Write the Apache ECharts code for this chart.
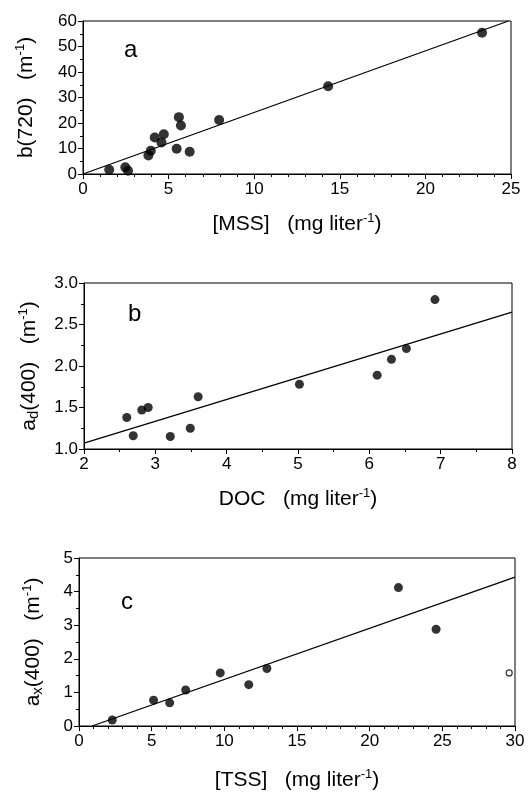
<!DOCTYPE html>
<html><head><meta charset="utf-8">
<script src="https://cdn.jsdelivr.net/npm/echarts@6/dist/echarts.min.js"></script>
<style>html,body{margin:0;padding:0;background:#fff}#c{width:529px;height:793px}</style>
</head><body><div id="c"></div>
<script>
// Panel a: b(720) vs [MSS]
const aX = [1.53, 2.47, 2.63, 3.82, 3.96, 4.19, 4.58, 4.72, 5.60, 5.72, 5.47, 6.23, 7.95, 14.32, 23.31];
const aY = [1.7, 2.6, 1.3, 7.3, 9.1, 14.3, 12.4, 15.6, 22.3, 19.0, 9.9, 8.7, 21.2, 34.4, 55.4];
const aFitX = [0, 24.85];
const aFitY = [0, 60];
// Panel b: a_d(400) vs DOC
const bX = [2.60, 2.69, 2.81, 2.90, 3.21, 3.49, 3.60, 5.02, 6.11, 6.31, 6.52, 6.92];
const bY = [1.38, 1.16, 1.47, 1.50, 1.15, 1.25, 1.63, 1.78, 1.89, 2.08, 2.21, 2.80];
const bFitX = [2, 8];
const bFitY = [1.07, 2.65];
// Panel c: a_x(400) vs [TSS]
const cX = [2.29, 5.13, 6.24, 7.34, 9.72, 11.68, 12.93, 21.98, 24.57];
const cY = [0.18, 0.77, 0.69, 1.07, 1.58, 1.23, 1.71, 4.12, 2.88];
const cOpenX = [29.6];
const cOpenY = [1.58];
const cFitX = [0.9, 30];
const cFitY = [0, 4.43];
// axis ticks
const aXTicks = {min: 0, max: 25, interval: 5};
const aYTicks = {min: 0, max: 60, interval: 10};
const bXTicks = {min: 2, max: 8, interval: 1};
const bYTicks = {min: 1.0, max: 3.0, interval: 0.5};
const cXTicks = {min: 0, max: 30, interval: 5};
const cYTicks = {min: 0, max: 5, interval: 1};

const FONT = "'Liberation Sans', Arial, Helvetica, sans-serif";
const pairs = (xs, ys) => xs.map((x, i) => [x, ys[i]]);
const rich = {
  sup: {fontSize: 13, lineHeight: 12, verticalAlign: 'top', fontFamily: FONT, color: '#000'},
  sub: {fontSize: 15, lineHeight: 14, verticalAlign: 'bottom', fontFamily: FONT, color: '#000'}
};
const nameStyle = {fontSize: 21, lineHeight: 24, fontFamily: FONT, color: '#000', rich: rich};

function xAxis(gi, t, split, name, gap, fmt) {
  return {
    type: 'value', gridIndex: gi, min: t.min, max: t.max, interval: t.interval,
    name: name, nameLocation: 'middle', nameGap: gap, nameTextStyle: nameStyle,
    axisLine: {show: true, lineStyle: {color: '#000', width: 1}},
    axisTick: {show: true, inside: false, length: 5, lineStyle: {color: '#000'}},
    minorTick: {show: true, splitNumber: split, length: 3, lineStyle: {color: '#000'}},
    splitLine: {show: false},
    axisLabel: {fontSize: 17, fontFamily: FONT, color: '#000', margin: 7, formatter: fmt}
  };
}
function yAxis(gi, t, split, name, gap, fmt) {
  const o = xAxis(gi, t, split, name, gap, fmt);
  o.axisLabel.margin = 6;
  return o;
}
const f1 = v => v.toFixed(1);
const f0 = v => String(v);

const dot = (gi, xs, ys, size) => ({
  type: 'scatter', xAxisIndex: gi, yAxisIndex: gi, data: pairs(xs, ys),
  symbol: 'circle', symbolSize: size, itemStyle: {color: '#000'}, z: 3
});
const fit = (gi, xs, ys) => ({
  type: 'line', xAxisIndex: gi, yAxisIndex: gi, data: pairs(xs, ys),
  showSymbol: false, symbol: 'none', lineStyle: {color: '#000', width: 1.3}, clip: true, z: 2
});

const chart = echarts.init(document.getElementById('c'), null, {renderer: 'canvas'});
chart.setOption({
  backgroundColor: '#fff',
  animation: false,
  grid: [
    {left: 83, top: 21, width: 428, height: 153, show: true, borderColor: '#000', borderWidth: 1},
    {left: 84, top: 283, width: 428, height: 166, show: true, borderColor: '#000', borderWidth: 1},
    {left: 79, top: 558, width: 436, height: 171, show: true, borderColor: '#000', borderWidth: 1}
  ],
  xAxis: [
    xAxis(0, aXTicks, 5, '[MSS]   (mg liter{sup|-1})', 38, f0),
    xAxis(1, bXTicks, 2, 'DOC   (mg liter{sup|-1})', 38, f0),
    xAxis(2, cXTicks, 5, '[TSS]   (mg liter{sup|-1})', 42, f0)
  ],
  yAxis: [
    yAxis(0, aYTicks, 2, 'b(720)   (m{sup|-1})', 45, f0),
    yAxis(1, bYTicks, 2, 'a{sub|d}(400)   (m{sup|-1})', 43, f1),
    yAxis(2, cYTicks, 2, 'a{sub|x}(400)   (m{sup|-1})', 34, f0)
  ],
  graphic: [
    {type: 'text', left: 124, top: 38, style: {text: 'a', font: '24px ' + FONT, fill: '#000'}},
    {type: 'text', left: 128, top: 302, style: {text: 'b', font: '24px ' + FONT, fill: '#000'}},
    {type: 'text', left: 121, top: 590, style: {text: 'c', font: '24px ' + FONT, fill: '#000'}}
  ],
  series: [
    fit(0, aFitX, aFitY), dot(0, aX, aY, 10),
    fit(1, bFitX, bFitY), dot(1, bX, bY, 9),
    fit(2, cFitX, cFitY), dot(2, cX, cY, 9),
    {type: 'scatter', xAxisIndex: 2, yAxisIndex: 2, data: pairs(cOpenX, cOpenY),
     symbol: 'circle', symbolSize: 6, itemStyle: {color: '#fff', borderColor: '#000', borderWidth: 1.2}, z: 3}
  ]
});
</script></body></html>
